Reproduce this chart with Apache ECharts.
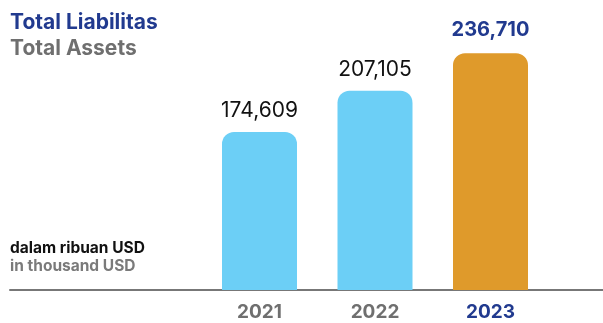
<!DOCTYPE html>
<html>
<head>
<meta charset="utf-8">
<script src="https://cdn.jsdelivr.net/npm/echarts@6/dist/echarts.min.js"></script>
<style>
  html, body { margin: 0; padding: 0; background: #ffffff; }
  #chart { width: 603px; height: 323px; }
</style>
</head>
<body>
<div id="chart"></div>
<script>
// Yearly totals, thousand USD
const years = ['2021', '2022', '2023'];
const totals = [174609, 207105, 236710];
const highlightYear = '2023';

const FONT = 'Inter';
const NAVY = '#213a8f';
const GREY = '#6f6f6f';
const SKY = '#6ccff6';
const AMBER = '#df9a2b';

const fmt = v => v.toLocaleString('en-US');

const barData = totals.map((v, i) => {
  const hot = years[i] === highlightYear;
  return {
    value: v,
    itemStyle: { color: hot ? AMBER : SKY },
    label: hot
      ? { color: NAVY, fontWeight: 'bold', fontSize: 20, distance: 13 }
      : { color: '#111111', fontWeight: 'normal', fontSize: 21, distance: 11 }
  };
});

const yearLabels = years.map(y => ({
  value: y,
  textStyle: { color: y === highlightYear ? NAVY : GREY }
}));

const chart = echarts.init(document.getElementById('chart'), null, { renderer: 'canvas' });

chart.setOption({
  backgroundColor: '#ffffff',
  animation: false,
  title: [
    {
      text: 'Total Liabilitas',
      subtext: 'Total Assets',
      left: 10,
      top: 12,
      itemGap: 5,
      padding: 0,
      textStyle: { fontFamily: FONT, fontSize: 21, fontWeight: 'bold', color: NAVY },
      subtextStyle: { fontFamily: FONT, fontSize: 21, fontWeight: 'bold', color: GREY }
    },
    {
      text: 'dalam ribuan USD',
      subtext: 'in thousand USD',
      left: 10,
      top: 240,
      itemGap: 2,
      padding: 0,
      textStyle: { fontFamily: FONT, fontSize: 15.5, fontWeight: 'bold', color: '#111111' },
      subtextStyle: { fontFamily: FONT, fontSize: 15.5, fontWeight: 'bold', color: '#7a7a7a' }
    }
  ],
  grid: [
    { left: 201.75, right: 54.75, top: 36.4, bottom: 33 },
    { left: 10, right: 0, top: 36.4, bottom: 33 }
  ],
  xAxis: [
    {
      type: 'category',
      gridIndex: 0,
      data: yearLabels,
      axisLine: { show: false },
      axisTick: { show: false },
      axisLabel: {
        margin: 13,
        fontFamily: FONT,
        fontSize: 19,
        fontWeight: 'bold'
      }
    },
    {
      type: 'category',
      gridIndex: 1,
      data: [],
      axisLine: { show: true, lineStyle: { color: '#777777', width: 2 } },
      axisTick: { show: false },
      axisLabel: { show: false }
    }
  ],
  yAxis: [
    {
      type: 'value',
      gridIndex: 0,
      min: 50000,
      max: 250000,
      show: false,
      splitLine: { show: false }
    },
    {
      type: 'value',
      gridIndex: 1,
      show: false,
      splitLine: { show: false }
    }
  ],
  series: [
    {
      type: 'bar',
      xAxisIndex: 0,
      yAxisIndex: 0,
      barWidth: 75,
      data: barData,
      itemStyle: { borderRadius: [12, 12, 0, 0] },
      label: {
        show: true,
        position: 'top',
        fontFamily: FONT,
        formatter: p => fmt(p.value)
      }
    }
  ]
});
</script>
</body>
</html>
